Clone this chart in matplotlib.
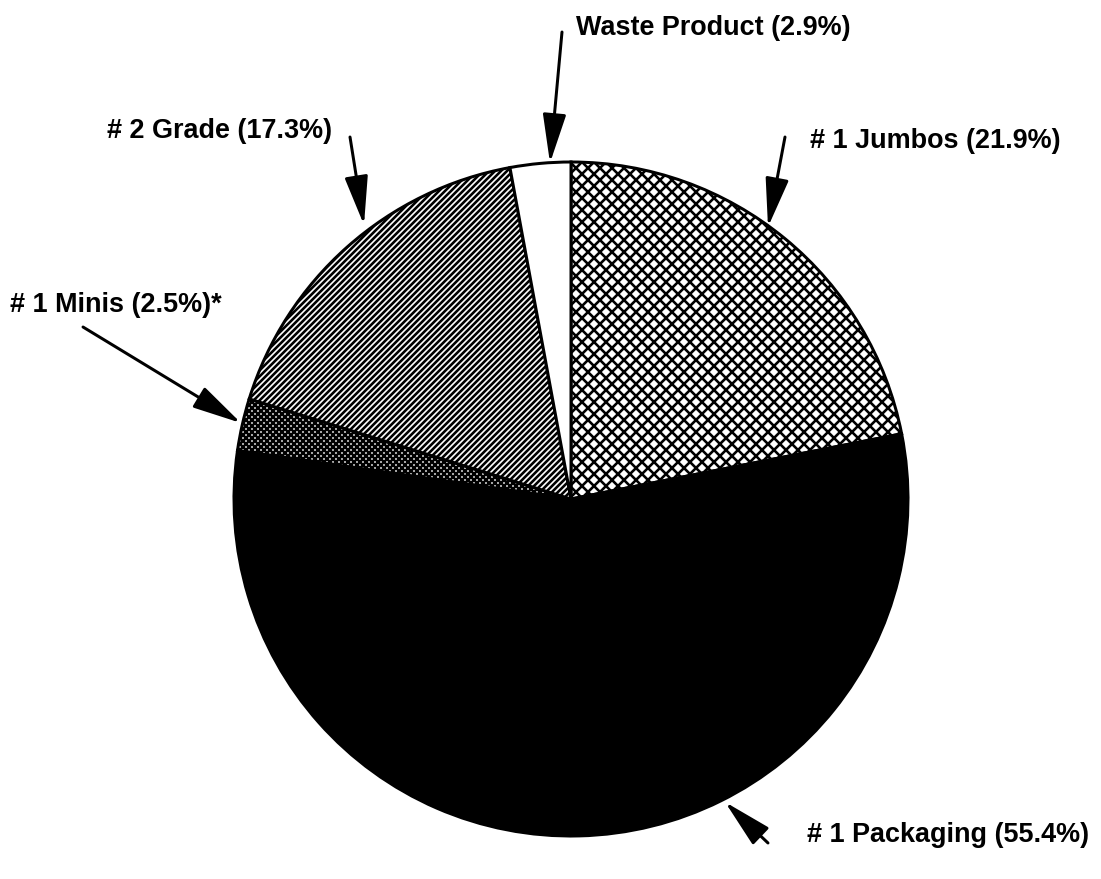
import matplotlib
matplotlib.use("Agg")
import matplotlib.pyplot as plt
from matplotlib.patches import FancyArrowPatch

# data
categories = ["# 1 Jumbos", "# 1 Packaging", "# 1 Minis", "# 2 Grade", "Waste Product"]
shares = [21.9, 55.4, 2.5, 17.3, 2.9]
suffix = ["", "", "*", "", ""]

W, H = 1101, 879
plt.rcParams["hatch.linewidth"] = 2.6
plt.rcParams["font.family"] = ["Liberation Sans", "DejaVu Sans"]

fig = plt.figure(figsize=(W / 72, H / 72), dpi=72)
ax = fig.add_axes([0, 0, 1, 1])

cx, cy, R = 571, 499, 337

# fills / hatches per slice (same order as categories)
fills = ["white", "black", "white", "white", "white"]
hatches = ["xx", None, "xxxx", "////", None]

wedges, _ = ax.pie(shares, startangle=90, counterclock=False,
                   center=(cx, H - cy), radius=R,
                   colors=fills,
                   wedgeprops=dict(edgecolor="black", linewidth=3))
for w, h in zip(wedges, hatches):
    if h:
        w.set_hatch(h)

ax.set_xlim(0, W)
ax.set_ylim(0, H)
ax.set_aspect("equal")
ax.axis("off")

def Y(y):
    return H - y

# label placement: (text x, text baseline y, ha, arrow tail, arrow tip)
place = [
    (810, 148, "left", (785, 137), (768, 227)),
    (807, 842, "left", (768, 843), (725, 802)),
    (10, 312, "left", (83, 327), (241, 423)),
    (332, 138, "right", (350, 137), (364, 225)),
    (576, 35, "left", (562, 32), (550, 163)),
]

for name, val, suf, (tx, ty, ha, tail, tip) in zip(categories, shares, suffix, place):
    ax.text(tx, Y(ty), f"{name} ({val}%){suf}", fontsize=27, fontweight="bold",
            ha=ha, va="baseline", color="black")
    ax.add_patch(FancyArrowPatch((tail[0], Y(tail[1])), (tip[0], Y(tip[1])),
                                 arrowstyle="-|>,head_length=42,head_width=10",
                                 mutation_scale=1, lw=3, color="black",
                                 shrinkA=0, shrinkB=0, zorder=5))

fig.savefig("out.png", dpi=72, facecolor="white")
